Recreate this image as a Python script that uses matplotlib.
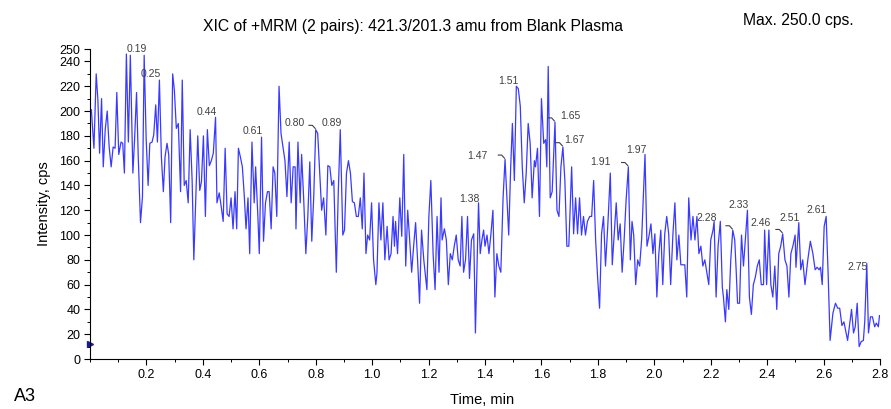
import matplotlib.pyplot as plt
from matplotlib.ticker import MultipleLocator

plt.rcParams['font.family'] = ['Liberation Sans', 'DejaVu Sans']

# XIC trace (time in min, intensity in cps)
time_min = [
    0.005, 0.008, 0.014, 0.022, 0.028, 0.034, 0.041, 0.047, 0.054, 0.061,
    0.068, 0.075, 0.082, 0.089, 0.095, 0.102, 0.110, 0.116, 0.122, 0.129,
    0.136, 0.143, 0.152, 0.158, 0.165, 0.171, 0.179, 0.186, 0.192, 0.199,
    0.206, 0.212, 0.220, 0.226, 0.233, 0.239, 0.246, 0.253, 0.260, 0.266,
    0.273, 0.279, 0.286, 0.293, 0.299, 0.306, 0.313, 0.321, 0.327, 0.334,
    0.341, 0.348, 0.355, 0.362, 0.368, 0.375, 0.382, 0.389, 0.395, 0.402,
    0.409, 0.416, 0.423, 0.430, 0.437, 0.445, 0.450, 0.458, 0.465, 0.472,
    0.479, 0.486, 0.493, 0.500, 0.507, 0.514, 0.520, 0.526, 0.533, 0.540,
    0.547, 0.553, 0.560, 0.566, 0.574, 0.582, 0.587, 0.595, 0.600, 0.608,
    0.615, 0.622, 0.629, 0.635, 0.642, 0.649, 0.655, 0.662, 0.670, 0.677,
    0.684, 0.691, 0.698, 0.706, 0.713, 0.720, 0.727, 0.730, 0.737, 0.745,
    0.750, 0.757, 0.765, 0.772, 0.779, 0.786, 0.793, 0.800, 0.807, 0.821,
    0.828, 0.836, 0.843, 0.850, 0.857, 0.864, 0.873, 0.880, 0.887, 0.896,
    0.902, 0.909, 0.916, 0.923, 0.930, 0.937, 0.944, 0.951, 0.958, 0.965,
    0.971, 0.978, 0.984, 0.991, 0.998, 1.005, 1.013, 1.017, 1.024, 1.031,
    1.038, 1.045, 1.053, 1.060, 1.067, 1.074, 1.079, 1.083, 1.090, 1.098,
    1.105, 1.112, 1.119, 1.126, 1.133, 1.140, 1.147, 1.154, 1.161, 1.168,
    1.175, 1.183, 1.194, 1.201, 1.208, 1.216, 1.223, 1.230, 1.237, 1.244,
    1.248, 1.256, 1.263, 1.270, 1.277, 1.284, 1.291, 1.298, 1.305, 1.312,
    1.318, 1.324, 1.331, 1.338, 1.345, 1.352, 1.360, 1.366, 1.377, 1.383,
    1.389, 1.395, 1.400, 1.407, 1.414, 1.421, 1.428, 1.435, 1.442, 1.449,
    1.456, 1.464, 1.471, 1.478, 1.484, 1.491, 1.497, 1.504, 1.511, 1.518,
    1.525, 1.532, 1.539, 1.546, 1.553, 1.560, 1.567, 1.575, 1.579, 1.586,
    1.593, 1.600, 1.608, 1.615, 1.619, 1.624, 1.631, 1.638, 1.648, 1.655,
    1.662, 1.669, 1.676, 1.683, 1.690, 1.697, 1.707, 1.714, 1.721, 1.728,
    1.735, 1.742, 1.749, 1.756, 1.763, 1.771, 1.778, 1.785, 1.792, 1.799,
    1.806, 1.813, 1.820, 1.827, 1.835, 1.844, 1.851, 1.858, 1.865, 1.872,
    1.879, 1.886, 1.893, 1.900, 1.908, 1.915, 1.921, 1.927, 1.934, 1.941,
    1.948, 1.955, 1.967, 1.974, 1.981, 1.988, 1.995, 2.002, 2.009, 2.016,
    2.023, 2.030, 2.037, 2.044, 2.051, 2.058, 2.066, 2.073, 2.080, 2.087,
    2.094, 2.101, 2.108, 2.115, 2.122, 2.130, 2.137, 2.144, 2.151, 2.158,
    2.165, 2.172, 2.179, 2.186, 2.193, 2.200, 2.208, 2.212, 2.219, 2.226,
    2.234, 2.241, 2.245, 2.252, 2.257, 2.264, 2.271, 2.278, 2.285, 2.290,
    2.295, 2.302, 2.309, 2.316, 2.330, 2.337, 2.344, 2.351, 2.358, 2.365,
    2.372, 2.379, 2.387, 2.391, 2.398, 2.406, 2.413, 2.420, 2.427, 2.434,
    2.441, 2.448, 2.455, 2.463, 2.470, 2.477, 2.484, 2.491, 2.499, 2.502,
    2.512, 2.519, 2.526, 2.534, 2.544, 2.553, 2.562, 2.570, 2.577, 2.584,
    2.589, 2.595, 2.602, 2.609, 2.616, 2.623, 2.633, 2.642, 2.650, 2.657,
    2.665, 2.672, 2.678, 2.685, 2.699, 2.706, 2.712, 2.719, 2.726, 2.733,
    2.741, 2.746, 2.753, 2.759, 2.766, 2.773, 2.781, 2.787, 2.794, 2.798,
]
intensity_cps = [
    201, 190, 170, 230, 209, 166, 210, 155, 185, 200,
    171, 155, 171, 170, 215, 165, 175, 174, 150, 246,
    175, 245, 150, 177, 215, 163, 110, 131, 245, 178,
    140, 174, 175, 181, 205, 175, 225, 163, 135, 163,
    174, 165, 110, 230, 217, 186, 190, 135, 225, 140,
    144, 126, 185, 144, 80, 131, 180, 136, 143, 180,
    115, 185, 156, 160, 166, 195, 126, 134, 123, 111,
    170, 117, 115, 130, 105, 135, 105, 170, 163, 155,
    131, 105, 130, 85, 175, 126, 155, 115, 85, 179,
    95, 126, 135, 135, 105, 155, 150, 115, 220, 182,
    171, 160, 131, 175, 126, 155, 155, 105, 175, 126,
    165, 131, 85, 115, 159, 95, 131, 185, 182, 120,
    130, 100, 156, 155, 140, 144, 70, 135, 185, 100,
    104, 150, 160, 150, 127, 126, 115, 115, 130, 105,
    150, 85, 100, 96, 126, 80, 60, 69, 126, 96,
    126, 80, 107, 80, 85, 115, 91, 111, 85, 130,
    99, 165, 75, 120, 96, 70, 91, 110, 80, 45,
    104, 80, 56, 115, 144, 85, 56, 115, 70, 130,
    96, 105, 96, 60, 85, 80, 91, 100, 80, 75,
    115, 70, 80, 115, 65, 96, 101, 21, 126, 85,
    96, 104, 91, 100, 85, 101, 120, 50, 85, 75,
    70, 130, 161, 128, 100, 155, 190, 144, 220, 218,
    204, 155, 126, 150, 190, 174, 130, 160, 155, 170,
    115, 210, 174, 177, 155, 236, 130, 135, 191, 120,
    115, 155, 171, 144, 91, 91, 155, 101, 130, 101,
    130, 100, 115, 100, 111, 115, 115, 144, 96, 66,
    41, 101, 115, 75, 107, 150, 76, 101, 126, 96,
    109, 70, 96, 128, 155, 80, 111, 100, 60, 80,
    75, 96, 165, 91, 99, 109, 85, 101, 50, 85,
    104, 60, 101, 115, 101, 60, 101, 126, 80, 100,
    76, 76, 76, 50, 130, 96, 115, 96, 115, 85,
    91, 75, 80, 70, 60, 96, 104, 111, 50, 91,
    111, 58, 50, 30, 56, 40, 80, 104, 96, 72,
    45, 45, 100, 75, 120, 50, 36, 60, 66, 75,
    80, 60, 60, 104, 60, 104, 60, 50, 75, 40,
    85, 91, 101, 80, 75, 50, 85, 91, 100, 74,
    110, 72, 80, 60, 80, 95, 85, 72, 74, 72,
    74, 60, 107, 115, 69, 15, 37, 45, 41, 41,
    27, 30, 23, 15, 40, 21, 26, 45, 10, 14,
    15, 31, 77, 21, 34, 34, 26, 29, 26, 35,
]

# peak labels: text and where the software put them
peak_labels = ['0.19', '0.25', '0.44', '0.61', '0.80', '0.89', '1.38', '1.47',
               '1.51', '1.65', '1.67', '1.91', '1.97', '2.28', '2.33', '2.46',
               '2.51', '2.61', '2.75']
label_x = [0.165, 0.216, 0.414, 0.577, 0.726, 0.857, 1.344, 1.373,
           1.483, 1.702, 1.716, 1.808, 1.936, 2.187, 2.297, 2.375,
           2.481, 2.577, 2.720]
label_y = [250, 230, 199, 184, 190, 190, 129, 164,
           224, 196, 177, 159, 169, 114, 124, 110,
           114, 120, 74]
# labels moved off their peak get a short leader line
leader_times = [0.800, 1.471, 1.648, 1.676, 1.908, 2.278, 2.455]

fig = plt.figure(figsize=(8.91, 4.09), dpi=100)
ax = fig.add_axes([0.101, 0.1222, 0.8867, 0.7578])

ax.plot(time_min, intensity_cps, color='#3a3aff', lw=0.9)

for txt, x, y in zip(peak_labels, label_x, label_y):
    ax.text(x, y, txt, fontsize=7.5, color='#404040', ha='center', va='center', clip_on=False)

for tp in leader_times:
    i = min(range(len(time_min)), key=lambda k: abs(time_min[k] - tp))
    t0, v0 = time_min[i], intensity_cps[i]
    ax.plot([t0 - 0.024, t0 - 0.012, t0 - 0.002], [v0 + 3.5, v0 + 3.5, v0 + 1],
            color='#404040', lw=0.8)

# baseline marker on the left edge
ax.plot([0], [12], marker='>', color='#1a1aa0', markersize=5, clip_on=False)

ax.set_xlim(0, 2.8)
ax.set_ylim(0, 250)
ax.set_xticks([0.2, 0.4, 0.6, 0.8, 1.0, 1.2, 1.4, 1.6, 1.8, 2.0, 2.2, 2.4, 2.6, 2.8])
ax.xaxis.set_minor_locator(MultipleLocator(0.1))
ax.set_yticks([0, 20, 40, 60, 80, 100, 120, 140, 160, 180, 200, 220, 240, 250])
ax.yaxis.set_minor_locator(MultipleLocator(10))
ax.tick_params(which='major', direction='out', length=4, width=0.8, labelsize=9, pad=3)
ax.tick_params(which='minor', direction='out', length=2.5, width=0.7)
for s in ('top', 'right'):
    ax.spines[s].set_visible(False)

ax.set_ylabel('Intensity, cps', fontsize=10.5, labelpad=6)
fig.text(0.541, 0.022, 'Time, min', fontsize=10.5, ha='center', va='center')
fig.text(0.016, 0.03, 'A3', fontsize=13, ha='left', va='center')
fig.text(0.464, 0.934, 'XIC of +MRM (2 pairs): 421.3/201.3 amu from Blank Plasma',
         fontsize=11.3, ha='center', va='center')
fig.text(0.896, 0.951, 'Max. 250.0 cps.', fontsize=11.3, ha='center', va='center')

fig.savefig('out.png', dpi=100)
